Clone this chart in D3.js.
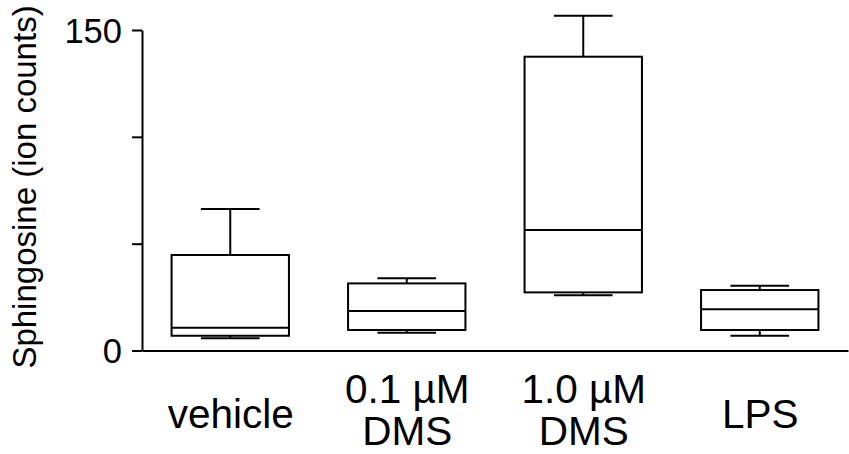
<!DOCTYPE html>
<html>
<head>
<meta charset="utf-8">
<script src="https://cdn.jsdelivr.net/npm/d3@7"></script>
<style>
  body { margin: 0; background: #fff; }
  svg { display: block; font-family: "Liberation Sans", Arial, Helvetica, sans-serif; }
</style>
</head>
<body>
<div id="chart"></div>
<script>
// box plot values
let categories = ['vehicle', '0.1 \u00b5M\nDMS', '1.0 \u00b5M\nDMS', 'LPS'];
let mins = [5.7, 8.3, 25.8, 6.9];
let q1s = [6.9, 9.6, 27.2, 9.6];
let medians = [10.7, 18.5, 56.4, 19.3];
let q3s = [44.7, 31.4, 137.5, 28.3];
let maxs = [66.2, 33.8, 156.7, 30.3];

let yTicks = [0, 50, 100, 150];
let yTickLabels = ['0', '', '', '150'];

let data = categories.map((c, i) => ({
  name: c, min: mins[i], q1: q1s[i], med: medians[i], q3: q3s[i], max: maxs[i]
}));

let width = 849, height = 454;
let margin = { top: 30, right: 1, bottom: 103.5, left: 142 };

let svg = d3.select('#chart')
  .append('svg')
  .attr('width', width)
  .attr('height', height);

let x = d3.scalePoint()
  .domain(categories)
  .range([margin.left, width - margin.right])
  .padding(0.5);

let y = d3.scaleLinear()
  .domain([0, 150])
  .range([height - margin.bottom, margin.top]);

let boxW = x.step() * 0.665;
let capW = boxW / 2;

// y axis
let yAxis = svg.append('g')
  .attr('transform', `translate(${margin.left},0)`)
  .call(d3.axisLeft(y)
    .tickValues(yTicks)
    .tickFormat((d, i) => yTickLabels[i])
    .tickSize(10)
    .tickSizeOuter(0)
    .tickPadding(10));

yAxis.selectAll('path, line')
  .attr('stroke', '#000')
  .attr('stroke-width', 2);
yAxis.selectAll('text')
  .attr('fill', '#000')
  .style('font-size', '34.5px')
  .attr('dy', '0.36em');

// x axis
let xAxis = svg.append('g')
  .attr('transform', `translate(0,${y(0)})`)
  .call(d3.axisBottom(x).tickSize(0).tickSizeOuter(0));

xAxis.select('.domain')
  .attr('stroke', '#000')
  .attr('stroke-width', 2);

xAxis.selectAll('.tick text')
  .attr('fill', '#000')
  .attr('y', null)
  .attr('dy', null)
  .style('font-size', '40.5px')
  .each(function(d) {
    let lines = d.split('\n');
    let t = d3.select(this).text(null);
    let ys = lines.length === 1 ? [77] : [52.5, 94.5];
    lines.forEach((l, i) => {
      t.append('tspan')
        .attr('x', 0)
        .attr('y', ys[i])
        .text(l);
    });
  });

// y axis title
svg.append('text')
  .attr('transform', 'translate(36,187) rotate(-90)')
  .attr('text-anchor', 'middle')
  .style('font-size', '33px')
  .attr('fill', '#000')
  .text('Sphingosine (ion counts)');

// boxes
let box = svg.selectAll('.box')
  .data(data)
  .enter()
  .append('g')
  .attr('class', 'box')
  .attr('stroke', '#000')
  .attr('stroke-width', 2)
  .attr('fill', 'none');

box.append('line')
  .attr('x1', d => x(d.name))
  .attr('x2', d => x(d.name))
  .attr('y1', d => y(d.q3))
  .attr('y2', d => y(d.max));

box.append('line')
  .attr('x1', d => x(d.name))
  .attr('x2', d => x(d.name))
  .attr('y1', d => y(d.q1))
  .attr('y2', d => y(d.min));

box.append('line')
  .attr('x1', d => x(d.name) - capW / 2)
  .attr('x2', d => x(d.name) + capW / 2)
  .attr('y1', d => y(d.max))
  .attr('y2', d => y(d.max));

box.append('line')
  .attr('x1', d => x(d.name) - capW / 2)
  .attr('x2', d => x(d.name) + capW / 2)
  .attr('y1', d => y(d.min))
  .attr('y2', d => y(d.min));

box.append('rect')
  .attr('x', d => x(d.name) - boxW / 2)
  .attr('y', d => y(d.q3))
  .attr('width', boxW)
  .attr('height', d => y(d.q1) - y(d.q3))
  .attr('fill', '#fff');

box.append('line')
  .attr('x1', d => x(d.name) - boxW / 2)
  .attr('x2', d => x(d.name) + boxW / 2)
  .attr('y1', d => y(d.med))
  .attr('y2', d => y(d.med));
</script>
</body>
</html>
